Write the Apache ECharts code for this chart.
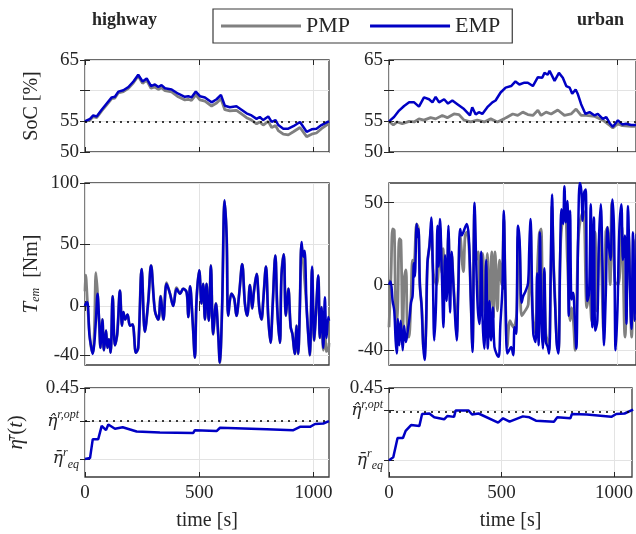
<!DOCTYPE html>
<html>
<head>
<meta charset="utf-8">
<script src="https://cdn.jsdelivr.net/npm/echarts@6/dist/echarts.min.js"></script>
<style>
html, body { margin: 0; padding: 0; background: #fff; }
#main { width: 636px; height: 534px; }
</style>
</head>
<body>
<div id="main"></div>
<script>
// ---- data ----
var timeTicks = [0, 500, 1000];
var socTickLabels = [50, 55, 65];
var socTicks = [50, 55, 60, 65];
var socRef = 55;
var hwTemTicks = [-40, 0, 50, 100];
var urTemTicks = [-40, 0, 50];

// highway SoC
var hwSocT = [0, 22, 36, 51, 73, 95, 117, 131, 146, 168, 190, 212, 233, 252, 270, 289, 306, 321, 335, 350,
  379, 408, 437, 452, 466, 485, 503, 525, 554, 576, 595, 612, 634, 663, 685, 707, 729, 751, 765, 780,
  802, 817, 834, 846, 868, 890, 912, 941, 970, 992, 1013, 1035, 1062, 1068];
var hwSocEmp = [55.0, 55.4, 55.96, 55.8, 56.9, 57.9, 58.9, 59.0, 59.85, 60.06, 60.6, 61.5, 62.6, 61.5, 62.0, 60.75, 61.0, 60.6, 60.9, 60.4,
  60.2, 59.5, 59.0, 59.1, 58.9, 59.85, 59.1, 58.9, 58.1, 58.6, 59.3, 57.55, 57.3, 57.45, 56.9, 56.3, 55.96, 55.4, 55.7, 55.2,
  55.8, 54.9, 55.2, 54.4, 53.8, 53.8, 54.2, 54.9, 53.3, 53.7, 53.8, 54.4, 54.9, 55.0];
var hwSocPmp = [55.0, 55.2, 55.8, 55.6, 56.7, 57.7, 58.7, 58.8, 59.65, 59.86, 60.4, 61.3, 62.4, 61.2, 61.7, 60.4, 60.6, 60.2, 60.5, 60.0,
  59.8, 59.0, 58.5, 58.6, 58.4, 59.3, 58.5, 58.3, 57.5, 58.0, 58.7, 56.9, 56.7, 56.8, 56.2, 55.6, 55.2, 54.6, 54.9, 54.4,
  55.0, 54.0, 54.3, 53.5, 52.9, 52.8, 53.3, 54.0, 52.5, 52.9, 53.1, 53.8, 54.5, 54.7];

// urban SoC
var urSocEmpT = [0, 4, 22, 44, 66, 88, 110, 131, 153, 175, 190, 204, 219, 241, 258, 277, 299, 328, 354, 364,
  379, 393, 408, 430, 452, 466, 488, 510, 534, 553, 570, 592, 607, 629, 651, 670, 680, 694, 702, 724,
  743, 760, 775, 790, 801, 816, 826, 840, 859, 877, 899, 913, 935, 950, 967, 979, 1001, 1020, 1037, 1059, 1085];
var urSocEmp = [55.0, 55.16, 55.7, 56.75, 57.5, 58.1, 58.1, 57.4, 58.9, 58.6, 58.1, 59.0, 58.1, 58.6, 57.9, 58.4, 57.8, 57.0, 55.96, 57.3,
  56.1, 56.5, 56.2, 57.3, 58.1, 58.4, 59.7, 60.5, 60.75, 61.5, 61.0, 61.3, 61.3, 60.75, 62.2, 62.1, 62.9, 62.6, 63.25, 61.6,
  62.9, 62.1, 60.75, 60.5, 59.5, 60.2, 59.4, 57.8, 56.2, 56.5, 55.96, 56.2, 55.4, 55.7, 54.6, 54.1, 55.16, 54.5, 54.6, 54.4, 54.4];
var urSocPmpT = [0, 4, 19, 36, 58, 88, 110, 131, 153, 182, 204, 233, 255, 284, 306, 328, 357, 386, 416, 445,
  474, 503, 512, 541, 563, 585, 607, 629, 651, 665, 687, 709, 738, 767, 796, 818, 840, 862, 900, 935,
  967, 979, 1000, 1020, 1060, 1085];
var urSocPmp = [55.0, 54.9, 54.4, 54.9, 54.6, 55.0, 54.9, 55.4, 55.2, 55.6, 55.4, 55.96, 55.6, 56.2, 56.1, 55.2, 54.9, 55.2, 54.9, 55.4,
  54.9, 55.4, 55.6, 56.2, 55.96, 56.5, 56.1, 55.96, 56.8, 55.96, 56.5, 56.2, 56.85, 55.96, 56.2, 57.0, 55.96, 55.96, 55.8, 55.2,
  54.3, 53.9, 54.6, 54.3, 54.2, 54.2];

// highway motor torque
var hwTemT = [0, 3, 10, 19, 26, 34, 41, 48, 55, 62, 68, 76, 83, 92, 98, 105, 112, 121, 131, 141,
  153, 162, 168, 176, 186, 197, 208, 223, 233, 248, 262, 277, 289, 306, 321, 331, 343, 357, 372, 386,
  401, 416, 430, 445, 452, 460, 471, 481, 488, 500, 510, 517, 525, 532, 542, 551, 561, 573, 583, 590,
  600, 611, 620, 627, 641, 653, 663, 675, 688, 700, 710, 722, 732, 739, 751, 763, 773, 780, 792, 802,
  812, 821, 833, 842, 853, 860, 870, 879, 890, 900, 908, 918, 926, 933, 940, 948, 955, 961, 970, 977,
  984, 994, 1003, 1011, 1021, 1028, 1035, 1043, 1050, 1057, 1065, 1068];
var hwTemEmp = [0, 1.6, 3, -23, -32, -39, -30, -11, 10, -12, -34, -11, -36, -20, -34, -27, -38, 8, -32, -23,
  12.5, -16, -5, -11, -7, -16, -15, -38, -34, 30, -21, 4, 33, -4, -11, 8, -11, 18, 10, 0,
  14, 10, 14, 11, -9, 16, -12, -42, 4, 29, 2, 18, -11, 18, -12, 33, -23, 2, -23, -46,
  -2, 86, 56, -8, 10, 6, -8, 10, 34, 2, -8, 17, -2, 11, 26, -2, -11, 4, 32, -9,
  -30, -1, 41, -4, -30, 25, 42, -8, 14, -17, -23, -39, -16, -39, -4, 52, 40, 45, -1, -23,
  -40, 32, -28, -5, 25, -26, -1, -34, 7, -26, -9, -12];
var hwTemPmp = [12, 25, 5, -20, -33, -38, -20, 27, 10, -15, -34, -11, -36, -20, -34, -27, -38, 8, -32, -23,
  12.5, -16, -5, -11, -7, -16, -15, -38, -34, 30, -21, 4, 33, -4, -11, 8, -11, 19, 10, 0,
  15, 10, 14, 11, -9, 16, -12, -42, 4, 29, 2, 18, -11, 18, -12, 33, -23, 2, -23, -46,
  -2, 85, 56, -8, 10, 6, -8, 10, 34, 2, -8, 17, -2, 11, 26, -2, -11, 4, 32, -9,
  -30, -1, 41, -4, -30, 25, 42, -8, 14, -17, -23, -39, -16, -39, -4, 50, 38, 22, -1, -23,
  -40, 30, -28, -5, 24, -26, -1, -36, -20, -37, -35, -30];

// urban motor torque
var urTemEmpT = [0, 7, 16, 23, 29, 34, 39, 45, 51, 60, 66, 74, 82, 89, 96, 103, 109, 113, 121, 125,
  129, 135, 143, 150, 156, 162, 168, 177, 185, 191, 198, 206, 212, 217, 223, 231, 238, 245, 252, 260,
  267, 274, 281, 289, 296, 303, 311, 318, 325, 333, 340, 349, 358, 365, 374, 381, 388, 396, 403, 410,
  417, 425, 432, 439, 446, 454, 461, 473, 480, 487, 496, 502, 509, 517, 525, 534, 543, 549, 556, 564,
  571, 580, 587, 597, 608, 613, 619, 625, 631, 641, 648, 654, 660, 666, 673, 679, 686, 694, 700, 707,
  713, 719, 727, 734, 741, 748, 754, 761, 767, 773, 780, 786, 792, 798, 805, 812, 819, 827, 834, 841,
  847, 853, 860, 867, 875, 882, 889, 896, 902, 911, 918, 926, 933, 940, 948, 955, 962, 969, 977, 984,
  991, 999, 1007, 1016, 1023, 1031, 1038, 1045, 1053, 1060, 1067, 1075, 1083];
var urTemEmp = [0, 2, -10, -16, -34, -42, -21, -37, -22, -40, -25, -35, -28, -21, -11, -7, 13, 5, 37, 29,
  34, 0, -14, -38, -46, -26, 13, 24, 41, 13, -34, -10, 36, 11, 40, 7, -26, 18, -10, 36,
  -17, 20, 2, -20, -34, -2, 34, 30, 32, 35, 37, 29, -10, -41, 50, 15, -14, -24, 20, -24,
  -39, 15, -39, -10, -34, -14, -38, -43, -44, -24, -2, 45, -6, -42, -40, -38, -43, -26, -30, 36,
  27, -11, -7, -4, 1, 21, 40, 2, -30, -35, 7, -37, 32, -20, -39, 10, -35, -38, -42, 7,
  55, 15, -15, -37, -42, 15, 46, 37, 60, 38, 51, -19, 45, -9, -5, -20, -39, 30, 62, 57,
  39, 56, 58, -10, -5, 49, -26, 41, -28, -22, 27, 49, 15, -37, -5, 35, 23, 15, 52, 33,
  -40, -15, 33, 49, 15, 30, -24, 48, 3, -27, 32, -22, 31];
var urTemPmpT = [0, 9, 16, 23, 31, 38, 45, 52, 60, 67, 74, 80, 87, 96, 103, 109, 121, 129, 135, 143,
  150, 156, 162, 168, 177, 185, 194, 208, 217, 223, 231, 237, 245, 252, 260, 267, 274, 281, 289, 296,
  303, 311, 325, 333, 340, 349, 358, 365, 374, 381, 390, 398, 410, 420, 430, 439, 449, 456, 464, 474,
  483, 493, 502, 509, 517, 529, 544, 558, 564, 571, 580, 595, 609, 619, 624, 631, 641, 648, 657, 665,
  673, 679, 686, 694, 700, 707, 713, 719, 727, 734, 741, 748, 755, 770, 780, 792, 799, 806, 814, 827,
  836, 850, 865, 875, 886, 901, 908, 923, 938, 948, 956, 967, 974, 988, 1003, 1017, 1032, 1047, 1061, 1072, 1085];
var urTemPmp = [-26, 7, 34, 33, -26, -14, 28, 27, -30, 4, 9, -26, -32, -10, 15, 13, 37, 34, 0, -14,
  -38, -40, -26, 13, 24, 35, 7, 0, 11, 35, 7, 22, -7, -5, 30, 10, 18, 2, -14, -30,
  -2, 30, 8, 30, 32, 25, -10, -38, 45, 15, 20, -20, 19, -18, 19, -16, 20, -20, 20, -16,
  15, 0, 40, -6, -38, -22, -26, -18, 30, 24, -19, -16, -12, 35, -6, -22, -30, 5, 31, 34,
  -35, 8, -30, -35, -40, 5, 48, 15, -12, -35, -40, 12, 35, 43, 15, -22, -14, -22, -40, 25,
  39, 45, -14, -5, -22, 32, -16, 34, -28, 32, 35, 0, 50, 2, 0, 36, -32, 31, -32, 27, -22];

// average efficiency, with the two reference levels of each panel
var hwEtaEq = 0.30, hwEtaOpt = 0.38, hwEtaMin = 0.262;
var urEtaEq = 0.30, urEtaOpt = 0.403, urEtaMin = 0.265;
var etaMax = 0.45;
var hwEtaT = [0, 22, 34, 58, 73, 92, 102, 131, 165, 226, 328, 474, 481, 576, 591, 795, 912, 941, 985, 1007, 1043, 1068];
var hwEta = [0.300, 0.302, 0.342, 0.342, 0.370, 0.361, 0.373, 0.364, 0.367, 0.358, 0.356, 0.355, 0.361, 0.359, 0.366,
  0.363, 0.361, 0.368, 0.368, 0.374, 0.375, 0.380];
var urEtaT = [0, 19, 38, 62, 74, 98, 135, 147, 179, 201, 245, 260, 289, 296, 354, 369, 398, 485, 507, 536,
  595, 624, 653, 733, 748, 806, 813, 879, 988, 1010, 1047, 1085];
var urEta = [0.300, 0.306, 0.346, 0.346, 0.361, 0.373, 0.371, 0.396, 0.397, 0.389, 0.385, 0.392, 0.390, 0.403, 0.403,
  0.395, 0.397, 0.378, 0.387, 0.380, 0.391, 0.389, 0.382, 0.380, 0.389, 0.387, 0.396, 0.395, 0.390, 0.396, 0.397, 0.405];

// ---- styling ----
var FONT = 'Liberation Serif';
var TXT = '#262626';
var GRIDC = '#e3e3e3';
var PMP_COLOR = '#808080';
var EMP_COLOR = '#0000c4';
var hwMax = 1068, urMax = 1080;

function pairs(ts, vs) {
  return ts.map(function (t, i) { return [t, vs[i]]; });
}
function plain(v) { return String(v); }

var lefts = [85, 389], widths = [244, 247];
var tops = [60, 183, 388], heights = [92, 182, 89];

var grids = [];
for (var r = 0; r < 3; r++) {
  for (var c = 0; c < 2; c++) {
    grids.push({
      left: lefts[c], top: tops[r], width: widths[c], height: heights[r],
      show: true, borderColor: '#3a3a3a', borderWidth: 1.3, backgroundColor: 'transparent'
    });
  }
}

var rich = {
  e: {fontFamily: 'DejaVu Serif', fontStyle: 'italic', fontSize: 17, color: TXT, lineHeight: 24},
  s: {fontFamily: FONT, fontStyle: 'italic', fontSize: 12, color: TXT, verticalAlign: 'top'},
  b: {fontFamily: FONT, fontStyle: 'italic', fontSize: 12, color: TXT, verticalAlign: 'bottom'},
  n: {fontFamily: FONT, fontSize: 20, color: TXT},
  i: {fontFamily: FONT, fontStyle: 'italic', fontSize: 21, color: TXT}
};

var xAxes = [], yAxes = [];
grids.forEach(function (g, k) {
  var r = Math.floor(k / 2), c = k % 2;
  var bottomRow = r === 2;
  xAxes.push({
    type: 'value', gridIndex: k, min: 0, max: c === 0 ? hwMax : urMax, interval: 500,
    axisLine: {show: false},
    axisTick: {inside: true, length: 5, customValues: timeTicks, lineStyle: {color: TXT, width: 1}},
    axisLabel: {show: bottomRow, customValues: timeTicks, formatter: plain, color: TXT, fontFamily: FONT, fontSize: 19, margin: 7},
    splitLine: {show: true, lineStyle: {color: GRIDC, width: 1}},
    name: bottomRow ? 'time [s]' : '',
    nameLocation: 'middle', nameGap: 34,
    nameTextStyle: {fontFamily: FONT, fontSize: 20, color: TXT}
  });
});

function yBase(k) {
  return {
    type: 'value', gridIndex: k,
    axisLine: {show: false},
    axisTick: {inside: true, length: 5, lineStyle: {color: TXT, width: 1}},
    axisLabel: {color: TXT, fontFamily: FONT, fontSize: 19, margin: 6, formatter: plain, rich: rich},
    splitLine: {show: true, lineStyle: {color: GRIDC, width: 1}},
    nameLocation: 'middle', nameRotate: 90,
    nameTextStyle: {fontFamily: FONT, fontSize: 20, color: TXT, rich: rich}
  };
}

// row 1: SoC
[0, 1].forEach(function (c) {
  var y = yBase(c);
  y.min = 50; y.max = 65; y.interval = 5;
  y.axisTick.customValues = socTicks;
  y.axisLabel.customValues = socTickLabels;
  if (c === 0) { y.name = 'SoC [%]'; y.nameGap = 43; }
  yAxes.push(y);
});
// row 2: torque
[0, 1].forEach(function (c) {
  var y = yBase(2 + c);
  var ticks = c === 0 ? hwTemTicks : urTemTicks;
  y.min = c === 0 ? -48 : -49;
  y.max = c === 0 ? 100 : 62;
  y.axisTick.customValues = ticks;
  y.axisLabel.customValues = ticks;
  if (c === 0) { y.name = '{i|T}{b|em}{n|  [Nm]}'; y.nameGap = 43; }
  yAxes.push(y);
});
// row 3: efficiency
[0, 1].forEach(function (c) {
  var y = yBase(4 + c);
  var eq = c === 0 ? hwEtaEq : urEtaEq, opt = c === 0 ? hwEtaOpt : urEtaOpt;
  var ticks = [eq, opt, etaMax];
  y.min = c === 0 ? hwEtaMin : urEtaMin;
  y.max = etaMax;
  y.axisTick.customValues = ticks;
  y.axisLabel.customValues = ticks;
  y.axisLabel.formatter = function (v) {
    if (Math.abs(v - etaMax) < 1e-9) return '0.45';
    if (Math.abs(v - opt) < 1e-9) return '{e|η̂}{s|r,opt}';
    return '{e|η̄}{s|r}{b|eq}';
  };
  if (c === 0) { y.name = '{i|η̄}{s|r}{n|(}{i|t}{n|)}'; y.nameGap = 58; }
  yAxes.push(y);
});

// mirrored tick marks on the top and right edges (box on)
var nBase = grids.length;
for (var k = 0; k < nBase; k++) {
  var bx = xAxes[k], by = yAxes[k];
  xAxes.push({
    type: 'value', gridIndex: k, position: 'top', min: bx.min, max: bx.max,
    axisLine: {show: false}, axisLabel: {show: false}, splitLine: {show: false},
    axisTick: {inside: true, length: 5, customValues: timeTicks, lineStyle: {color: TXT, width: 1}}
  });
  yAxes.push({
    type: 'value', gridIndex: k, position: 'right', min: by.min, max: by.max,
    axisLine: {show: false}, axisLabel: {show: false}, splitLine: {show: false},
    axisTick: {inside: true, length: 5, customValues: by.axisTick.customValues, lineStyle: {color: TXT, width: 1}}
  });
}

var dotted = {color: '#000', type: [2, 5], width: 1.5};
function refLine(val) {
  return {silent: true, symbol: 'none', label: {show: false}, lineStyle: dotted, data: [{yAxis: val}]};
}

function line(name, k, data, mark, smooth) {
  var s = {
    name: name, type: 'line', xAxisIndex: k, yAxisIndex: k, data: data,
    showSymbol: false, animation: false, smooth: smooth || false,
    lineStyle: {width: name === 'PMP' ? 2.8 : 2.5, color: name === 'PMP' ? PMP_COLOR : EMP_COLOR},
    itemStyle: {color: name === 'PMP' ? PMP_COLOR : EMP_COLOR},
    z: name === 'PMP' ? 2 : 3
  };
  if (mark != null) s.markLine = refLine(mark);
  return s;
}

var series = [
  line('PMP', 0, pairs(hwSocT, hwSocPmp), socRef),
  line('EMP', 0, pairs(hwSocT, hwSocEmp)),
  line('PMP', 1, pairs(urSocPmpT, urSocPmp), socRef),
  line('EMP', 1, pairs(urSocEmpT, urSocEmp)),
  line('PMP', 2, pairs(hwTemT, hwTemPmp), null, 0.35),
  line('EMP', 2, pairs(hwTemT, hwTemEmp), null, 0.35),
  line('PMP', 3, pairs(urTemPmpT, urTemPmp), null, 0.35),
  line('EMP', 3, pairs(urTemEmpT, urTemEmp), null, 0.35),
  line('EMP', 4, pairs(hwEtaT, hwEta), hwEtaOpt),
  line('EMP', 5, pairs(urEtaT, urEta), urEtaOpt)
];

var chart = echarts.init(document.getElementById('main'), null, {renderer: 'canvas'});
chart.setOption({
  animation: false,
  backgroundColor: '#fff',
  title: [
    {text: 'highway', left: 87, top: 6, textStyle: {fontFamily: FONT, fontWeight: 'bold', fontSize: 18, color: TXT}},
    {text: 'urban', left: 572, top: 6, textStyle: {fontFamily: FONT, fontWeight: 'bold', fontSize: 18, color: TXT}}
  ],
  legend: {
    data: ['PMP', 'EMP'], left: 213, top: 9,
    icon: 'rect', itemWidth: 80, itemHeight: 3, itemGap: 20,
    borderColor: '#3a3a3a', borderWidth: 1.2, padding: [6, 12, 6, 8],
    textStyle: {fontFamily: FONT, fontSize: 22, color: TXT}
  },
  grid: grids,
  xAxis: xAxes,
  yAxis: yAxes,
  series: series
});
</script>
</body>
</html>
